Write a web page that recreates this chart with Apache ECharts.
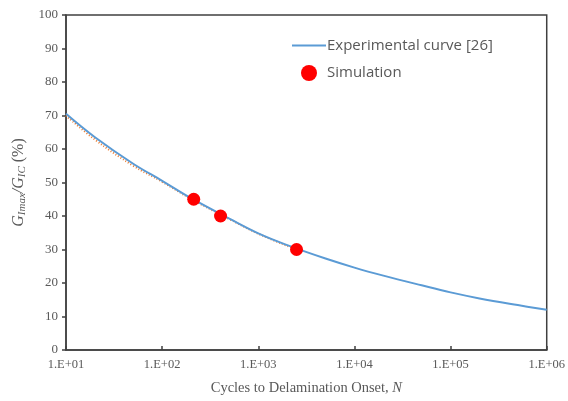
<!DOCTYPE html>
<html>
<head>
<meta charset="utf-8">
<script src="https://cdn.jsdelivr.net/npm/echarts@6/dist/echarts.min.js"></script>
<style>
  html, body { margin: 0; padding: 0; background: #fff; }
  #main { width: 568px; height: 401px; }
</style>
</head>
<body>
<div id="main"></div>
<script>
// experimental curve
var expN = [10, 20, 50, 100, 200, 500, 1000, 2000, 5000, 10000, 20000, 50000, 100000, 200000, 500000, 1000000];
var expG = [70.5, 63.5, 55.6, 50.5, 45.3, 39.2, 34.8, 31.3, 27.3, 24.6, 22.2, 19.3, 17.2, 15.4, 13.4, 12.0];
// simulation points
var simN = [213, 405, 2500];
var simG = [45, 40, 30];
// dotted trend line under the experimental curve
var trendN = [10, 20, 50, 100, 200, 500, 1000, 2500];
var trendG = [70.0, 62.8, 55.0, 50.2, 45.1, 39.1, 34.7, 30.0];

var serif = '"Liberation Serif", "DejaVu Serif", serif';
var sans = '"Open Sans", "Liberation Sans", sans-serif';

function pairs(xs, ys) {
  return xs.map(function (x, i) { return [x, ys[i]]; });
}

var myChart = echarts.init(document.getElementById('main'));
var option = {
  animation: false,
  backgroundColor: '#fff',
  grid: {
    left: 66, right: 20, top: 15, bottom: 47,
    show: true, borderColor: '#404040', borderWidth: 1.5
  },
  legend: {
    orient: 'vertical',
    left: 287, top: 33,
    itemGap: 12,
    itemWidth: 34, itemHeight: 16,
    data: [
      { name: 'Experimental curve [26]', icon: 'path://M0,7 L34,7 L34,9 L0,9 Z' },
      { name: 'Simulation' }
    ],
    textStyle: { fontFamily: sans, fontSize: 15, color: '#595959', padding: [0, 0, 0, -4] }
  },
  xAxis: {
    type: 'log', logBase: 10, min: 10, max: 1000000,
    name: '{t|Cycles to Delamination Onset, }{i|N}',
    nameLocation: 'middle', nameGap: 31,
    nameTextStyle: {
      rich: {
        t: { fontFamily: serif, fontSize: 14.5, color: '#595959' },
        i: { fontFamily: serif, fontSize: 14.5, color: '#595959', fontStyle: 'italic' }
      }
    },
    axisLine: { lineStyle: { color: '#404040', width: 1.5 } },
    axisTick: { inside: true, length: 4, lineStyle: { color: '#404040', width: 1.5 } },
    minorTick: { show: false },
    splitLine: { show: false },
    axisLabel: {
      fontFamily: serif, fontSize: 12.5, color: '#595959', margin: 8,
      formatter: function (v) {
        var e = Math.round(Math.log10(v));
        return '1.E+' + (e < 10 ? '0' + e : e);
      }
    }
  },
  yAxis: {
    type: 'value', min: 0, max: 100, interval: 10,
    name: '{g|G}{s|Imax}{g|/G}{s|IC}{n| (%)}',
    nameLocation: 'middle', nameGap: 38, nameRotate: 90,
    nameTextStyle: {
      rich: {
        g: { fontFamily: serif, fontSize: 16, color: '#595959', fontStyle: 'italic' },
        s: { fontFamily: serif, fontSize: 11, color: '#595959', fontStyle: 'italic', verticalAlign: 'bottom', padding: [6, 0, 0, 0] },
        n: { fontFamily: serif, fontSize: 16, color: '#595959' }
      }
    },
    axisLine: { show: true, lineStyle: { color: '#404040', width: 1.5 } },
    axisTick: { show: true, length: 4, lineStyle: { color: '#404040', width: 1.5 } },
    splitLine: { show: false },
    axisLabel: { fontFamily: serif, fontSize: 13, color: '#595959', margin: 8 }
  },
  series: [
    {
      name: 'trend',
      type: 'line',
      smooth: 0.4,
      showSymbol: false,
      data: pairs(trendN, trendG),
      lineStyle: { color: '#ED7D31', width: 2, type: [1, 2] },
      z: 1
    },
    {
      name: 'Experimental curve [26]',
      type: 'line',
      smooth: 0.4,
      showSymbol: false,
      data: pairs(expN, expG),
      color: '#5B9BD5',
      lineStyle: { color: '#5B9BD5', width: 2 },
      z: 2
    },
    {
      name: 'Simulation',
      type: 'scatter',
      symbol: 'circle',
      symbolSize: 13,
      data: pairs(simN, simG),
      itemStyle: { color: '#FF0000', opacity: 1 },
      z: 3
    }
  ]
};
myChart.setOption(option);
</script>
</body>
</html>
